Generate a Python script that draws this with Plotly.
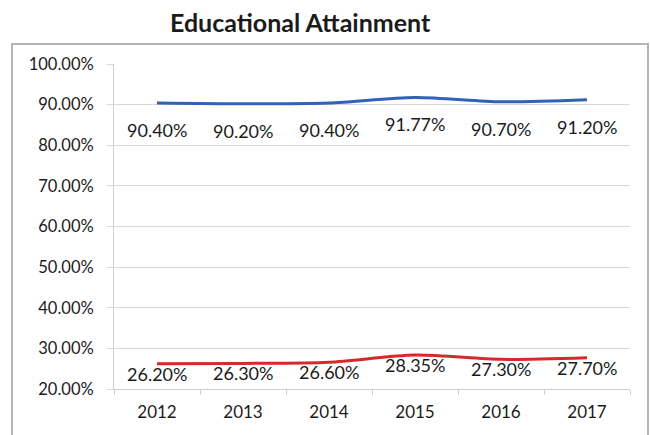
import plotly.graph_objects as go

# Educational attainment by year (percent)
years = ["2012", "2013", "2014", "2015", "2016", "2017"]
high_school = [90.40, 90.20, 90.40, 91.77, 90.70, 91.20]
bachelors = [26.20, 26.30, 26.60, 28.35, 27.30, 27.70]
y_ticks = [20, 30, 40, 50, 60, 70, 80, 90, 100]
y_tick_labels = [f"{v:.2f}%" for v in y_ticks]

FONT = "Lato, 'Open Sans', sans-serif"
TEXT = "#1b1b1b"
BLUE = "#2f62b8"
RED = "#d42a2a"

W, H = 650, 435
L, R, T, B = 114, 20, 64, 46
pw, ph = W - L - R, H - T - B

fig = go.Figure()
for vals, color in ((high_school, BLUE), (bachelors, RED)):
    fig.add_trace(go.Scatter(
        x=years, y=vals, mode="lines",
        line=dict(color=color, width=3, shape="spline", smoothing=0.8),
        showlegend=False, hoverinfo="x+y",
    ))

# value labels sit under each point (category index used for x)
annotations = []
for vals, shift in ((high_school, -27), (bachelors, -10)):
    for i, v in enumerate(vals):
        annotations.append(dict(
            x=i, y=v, xref="x", yref="y", text=f"{v:.2f}%",
            xanchor="center", yanchor="middle",
            showarrow=False, yshift=shift,
            font=dict(family=FONT, size=18, color=TEXT),
        ))

annotations.append(dict(
    x=(300 - L) / pw, y=(H - B - 22) / ph, xref="paper", yref="paper",
    xanchor="center", yanchor="middle",
    text="<b>Educational Attainment</b>", showarrow=False,
    font=dict(family=FONT, size=25, color=TEXT),
))

fig.update_layout(
    width=W, height=H,
    margin=dict(l=L, r=R, t=T, b=B),
    paper_bgcolor="white", plot_bgcolor="white",
    annotations=annotations,
    xaxis=dict(
        type="category", range=[-0.5, 5.5],
        showgrid=False, showline=True, linecolor="#cfcfcf", linewidth=1,
        ticks="outside", tickson="boundaries", ticklen=5, tickcolor="#cfcfcf",
        tickfont=dict(family=FONT, size=17, color=TEXT), ticklabelstandoff=8,
    ),
    yaxis=dict(
        range=[20, 100], tickvals=y_ticks, ticktext=y_tick_labels,
        showgrid=True, gridcolor="#d9d9d9", gridwidth=1,
        showline=True, linecolor="#cfcfcf", linewidth=1,
        ticks="outside", ticklen=6, tickcolor="#d9d9d9",
        zeroline=False,
        tickfont=dict(family=FONT, size=16.5, color=TEXT), ticklabelstandoff=10,
    ),
    shapes=[dict(
        type="rect", xref="paper", yref="paper",
        x0=(12 - L) / pw, x1=(648 - L) / pw,
        y0=(H - B - 445) / ph, y1=(H - B - 44) / ph,
        line=dict(color="#b5b5b5", width=2), layer="below",
    )],
)

fig.write_html("out.html")
